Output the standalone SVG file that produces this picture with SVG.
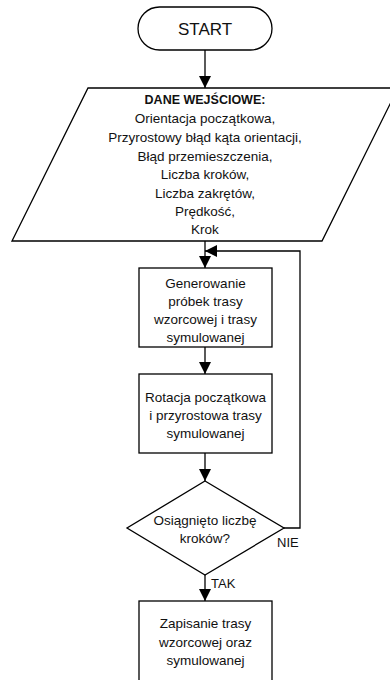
<svg xmlns="http://www.w3.org/2000/svg" width="390" height="680" viewBox="0 0 390 680">
<style>
.s{fill:#fff;stroke:#000;stroke-width:1.3}
.c{fill:none;stroke:#000;stroke-width:1.3}
text{font-family:"Liberation Sans",Arial,sans-serif;fill:#111;text-anchor:middle;dominant-baseline:central}
.p{font-size:13.5px}
.b{font-size:13.5px}
.l{font-size:13px;text-anchor:start}
</style>
<defs>
<marker id="ah" markerUnits="userSpaceOnUse" markerWidth="12" markerHeight="12" refX="12" refY="6" orient="auto">
<path d="M0,0 L12,6 L0,12 z" fill="#000"/>
</marker>
</defs>
<rect width="390" height="680" fill="#fff"/>
<g id="connectors">
<path class="c" d="M205,50 V88" marker-end="url(#ah)"/>
<path class="c" d="M205,241 V268" marker-end="url(#ah)"/>
<path class="c" d="M205,347 V374" marker-end="url(#ah)"/>
<path class="c" d="M205,453 V481" marker-end="url(#ah)"/>
<path class="c" d="M284,528 H300 V251 H205" marker-end="url(#ah)"/>
<path class="c" d="M205,575 V601" marker-end="url(#ah)"/>
<text class="l" x="277" y="542">NIE</text>
<text class="l" x="211" y="583">TAK</text>
</g>
<g id="start">
<rect class="s" x="138" y="7" width="134" height="43" rx="21.5" ry="21.5"/>
<text x="205" y="29" style="font-size:17px">START</text>
</g>
<g id="input">
<polygon class="s" points="88,88 398,88 322,241 12,241"/>
<text class="p" x="205" y="100" font-weight="bold" style="font-size:12.5px">DANE WEJŚCIOWE:</text>
<text class="p" x="205" y="118">Orientacja początkowa,</text>
<text class="p" x="205" y="137">Przyrostowy błąd kąta orientacji,</text>
<text class="p" x="205" y="156">Błąd przemieszczenia,</text>
<text class="p" x="205" y="174">Liczba kroków,</text>
<text class="p" x="205" y="193">Liczba zakrętów,</text>
<text class="p" x="205" y="211">Prędkość,</text>
<text class="p" x="205" y="229">Krok</text>
</g>
<g id="generate">
<rect class="s" x="139" y="268" width="133" height="79"/>
<text class="b" x="205.5" y="283">Generowanie</text>
<text class="b" x="205.5" y="301">próbek trasy</text>
<text class="b" x="205.5" y="319">wzorcowej i trasy</text>
<text class="b" x="205.5" y="337">symulowanej</text>
</g>
<g id="rotate">
<rect class="s" x="139" y="374" width="133" height="79"/>
<text class="b" x="205.5" y="397">Rotacja początkowa</text>
<text class="b" x="205.5" y="415">i przyrostowa trasy</text>
<text class="b" x="205.5" y="433">symulowanej</text>
</g>
<g id="decision">
<polygon class="s" points="205,481 284,528 205,575 127,528"/>
<text class="b" x="205" y="520">Osiągnięto liczbę</text>
<text class="b" x="205" y="538">kroków?</text>
</g>
<g id="save">
<rect class="s" x="139" y="601" width="133" height="85"/>
<text class="b" x="205.5" y="623">Zapisanie trasy</text>
<text class="b" x="205.5" y="642">wzorcowej oraz</text>
<text class="b" x="205.5" y="660">symulowanej</text>
</g>
</svg>
